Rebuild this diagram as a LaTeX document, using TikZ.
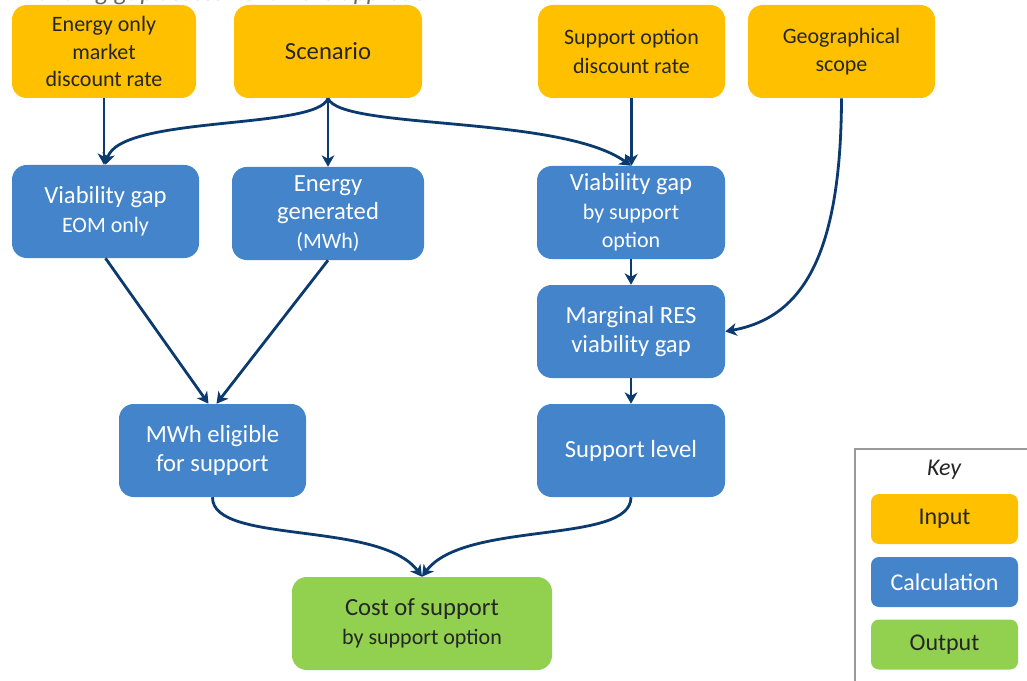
\documentclass[tikz,border=0pt]{standalone}
\usepackage{fontspec}
\setmainfont{Carlito}
\usetikzlibrary{arrows.meta}
\definecolor{inp}{HTML}{FFC000}
\definecolor{calc}{HTML}{4384CB}
\definecolor{outc}{HTML}{92D050}
\definecolor{arr}{HTML}{0B3A6E}
\definecolor{txt}{HTML}{262626}
\newcommand\smtxt[1]{{\fontsize{16.5}{19}\selectfont #1}}
\begin{document}
\begin{tikzpicture}[x=0.75pt,y=-0.75pt,
  box/.style={rounded corners=11pt, align=center, inner sep=0pt,
    minimum width=140.25pt, minimum height=69.75pt,
    font=\fontsize{18.5}{21.5}\selectfont},
  inbox/.style={box, fill=inp, text=txt},
  calcbox/.style={box, fill=calc, text=white},
  outbox/.style={box, fill=outc, text=txt},
  keybox/.style={rounded corners=6pt, minimum width=110.25pt, minimum height=37.5pt,
    inner sep=0pt, font=\fontsize{18}{21}\selectfont},
  flow/.style={draw=arr, line width=2.1pt, -{Stealth[length=8.5pt,width=9.5pt,inset=2.5pt]}}
]
\useasboundingbox (0,0) rectangle (1027,681);
\node[anchor=base west, text=black!60, font=\fontsize{19}{23}\selectfont\itshape] (title) at (22,1) {Funding gap assessment -- the approach};

% inputs
\node[inbox, minimum width=138pt] (e1) at (104,51.5) {\smtxt{Energy only}\\[-1pt]\smtxt{market}\\[-1pt]\smtxt{discount rate}};
\node[inbox, minimum width=141pt] (scen) at (328,51.5) {Scenario};
\node[inbox] (supdr) at (631.5,51.5) {\smtxt{Support option}\\\smtxt{discount rate}};
\node[inbox] (geo) at (841.5,51.5) {\smtxt{Geographical}\\\smtxt{scope}};

% calculations
\node[calcbox] (veom) at (105.5,211.5) {Viability gap\\\smtxt{EOM only}};
\node[calcbox, minimum width=144pt] (engen) at (328,213.5) {Energy\\generated\\\smtxt{(MWh)}};
\node[calcbox, minimum width=141pt] (vsup) at (631,212.5) {Viability gap\\\smtxt{by support}\\\smtxt{option}};
\node[calcbox, minimum width=141pt] (marg) at (631,331.5) {Marginal RES\\viability gap};
\node[calcbox] (mwh) at (212.5,450.5) {MWh eligible\\for support};
\node[calcbox, minimum width=141pt] (supl) at (631,450.5) {Support level};

% output
\node[outbox, minimum width=195pt] (cost) at (422,623.5) {Cost of support\\\smtxt{by support option}};

% arrows
\draw[flow] (e1.south) -- (e1.south |- veom.north);
\draw[flow] (scen.south) .. controls (318,130) and (120,115) .. (veom.north);
\draw[flow] (scen.south) -- (engen.north);
\draw[flow] (scen.south) .. controls (340,130) and (560,115) .. (vsup.north);
\draw[flow] (supdr.south) -- (supdr.south |- vsup.north);
\draw[flow] (geo.south) .. controls (841,260) and (800,318) .. (marg.east);
\draw[flow] (vsup) -- (marg);
\draw[flow] (marg) -- (supl);
\draw[flow] (veom.south) -- ([xshift=-3pt]mwh.north);
\draw[flow] (engen.south) -- ([xshift=3pt]mwh.north);
\draw[flow] (mwh.south) .. controls (212,545) and (380,520) .. (cost.north);
\draw[flow] (supl.south) .. controls (631,545) and (464,520) .. (cost.north);

% key
\draw[black!40, line width=1.1pt] (855,449) rectangle (1045,700);
\node[font=\fontsize{18}{21}\selectfont\itshape, text=txt] (key) at (944,470) {Key};
\node[keybox, fill=inp, text=txt] (kin) at (944.5,519) {Input};
\node[keybox, fill=calc, text=white] (kcalc) at (944.5,582) {Calculation};
\node[keybox, fill=outc, text=txt] (kout) at (944.5,644.5) {Output};
\end{tikzpicture}
\end{document}
